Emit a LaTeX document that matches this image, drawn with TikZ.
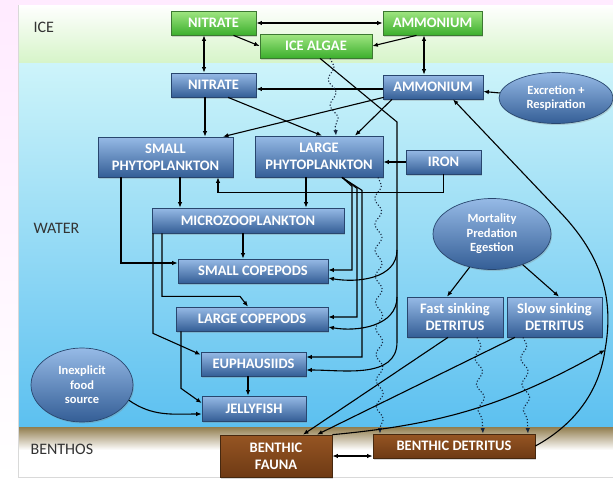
\documentclass[tikz,border=0pt]{standalone}
\usepackage{fontspec}
\setmainfont{Carlito}
\usetikzlibrary{arrows.meta,shapes.geometric,shadows,decorations.pathmorphing}

\definecolor{boxtop}{RGB}{150,186,230}
\definecolor{boxbot}{RGB}{52,94,150}
\definecolor{boxline}{RGB}{40,70,110}
\definecolor{icetop}{RGB}{160,230,130}
\definecolor{icebot}{RGB}{60,175,45}
\definecolor{iceline}{RGB}{60,120,50}
\definecolor{mudtop}{RGB}{150,85,35}
\definecolor{mudbot}{RGB}{110,58,20}
\definecolor{mudline}{RGB}{70,40,15}
\definecolor{icefill}{RGB}{214,244,200}
\definecolor{seatop}{RGB}{205,244,250}
\definecolor{seabot}{RGB}{92,192,240}
\definecolor{sandtop}{RGB}{145,125,78}
\definecolor{sinkcol}{RGB}{20,35,60}

\begin{document}
\begin{tikzpicture}[x=1pt,y=1pt,line width=1.1pt,>={Latex[length=5.5pt,width=4.5pt]},
		box/.style={draw=boxline,line width=0.7pt,top color=boxtop,bottom color=boxbot,
			text=white,font=\fontsize{14.5}{17}\selectfont\bfseries,align=center,inner sep=0pt,
			drop shadow={shadow xshift=1pt,shadow yshift=-1.5pt,opacity=0.3}},
		icebox/.style={box,draw=iceline,top color=icetop,bottom color=icebot},
		mudbox/.style={box,draw=mudline,top color=mudtop,bottom color=mudbot},
		blob/.style={ellipse,box,font=\fontsize{12.5}{14.5}\selectfont\bfseries},
		sz/.style 2 args={minimum width=#1pt,minimum height=#2pt},
		zone/.style={anchor=west,inner sep=0pt,text=black!80,font=\fontsize{16}{18}\selectfont},
		sink/.style={draw=sinkcol,dotted,line width=1.1pt,decorate,
			decoration={snake,segment length=26pt,amplitude=3.5pt,post length=5pt}},
		every edge/.style={draw,line width=1.1pt}]
		\useasboundingbox (0,0) rectangle (613,-480);
		
		% layers
		\shade[top color=magenta!8,bottom color=white] (0,0) rectangle (613,-480);
		\shade[top color=white,bottom color=icefill] (18,-5) rectangle (613,-63);
		\shade[top color=seatop,bottom color=seabot] (18,-63) rectangle (613,-427);
		\shade[top color=sandtop,bottom color=white] (18,-427) rectangle (613,-450);
		\fill[white] (18,-450) rectangle (613,-477);
		\draw[black!15,line width=0.6pt] (18,-5) -- (18,-477) -- (613,-477);
		
		\node[zone] (iceL) at (33,-27) {ICE};
		\node[zone] (waterL) at (33,-228) {WATER};
		\node[zone] (benthL) at (30,-449) {BENTHOS};
		
		\node[icebox,sz={85}{24}] (nitI) at (213.5,-23) {NITRATE};
		\node[icebox,sz={99}{24}] (ammI) at (432.5,-23) {AMMONIUM};
		\node[icebox,sz={112}{24}] (alg) at (316,-46) {ICE ALGAE};
		\node[box,sz={85}{24}] (nitW) at (213.5,-85) {NITRATE};
		\node[box,sz={100}{24}] (ammW) at (433,-87) {AMMONIUM};
		\node[blob,sz={114}{51}] (excr) at (556,-98) {Excretion +\\Respiration};
		\node[box,sz={135}{40}] (sphy) at (165.5,-157) {SMALL\\PHYTOPLANKTON};
		\node[box,sz={128}{41}] (lphy) at (319,-156.5) {LARGE\\PHYTOPLANKTON};
		\node[box,sz={75}{24}] (iron) at (443.5,-162) {IRON};
		\node[box,sz={192}{25}] (mzoo) at (248,-220.5) {MICROZOOPLANKTON};
		\node[box,sz={150}{24}] (scop) at (253,-271) {SMALL COPEPODS};
		\node[box,sz={152}{24}] (lcop) at (252,-319) {LARGE COPEPODS};
		\node[box,sz={105}{24}] (euph) at (253.5,-364) {EUPHAUSIIDS};
		\node[box,sz={104}{25}] (jell) at (254,-408.5) {JELLYFISH};
		\node[blob,sz={118}{71}] (mort) at (492,-234) {Mortality\\Predation\\Egestion};
		\node[box,sz={96}{40}] (fdet) at (455,-317) {Fast sinking\\DETRITUS};
		\node[box,sz={95}{40}] (sdet) at (554.5,-317) {Slow sinking\\DETRITUS};
		\node[blob,sz={102}{74}] (food) at (82,-385) {Inexplicit\\food\\source};
		\node[mudbox,sz={112}{42}] (bfau) at (276,-456) {BENTHIC\\FAUNA};
		\node[mudbox,sz={162}{24}] (bdet) at (454,-446) {BENTHIC DETRITUS};
		\coordinate (join) at (605,-350);
		
		% nutrients
		\draw[<->] (nitI) edge (ammI);
		\draw[->] ([xshift=20pt]nitI.south) -- (alg.west);
		\draw[->] ([xshift=-16pt]ammI.south) -- (alg.east);
		\draw[<->] ([xshift=-9.5pt]nitI.south) -- ([xshift=-9.5pt]nitW.north);
		\draw[<->] ([xshift=-8.5pt]ammI.south) -- ([xshift=-9pt]ammW.north);
		\draw[->] ([yshift=-2pt]ammW.west) -- ([yshift=-4pt]nitW.east);
		\draw[->] ([xshift=-8.5pt]nitW.south) -- ([xshift=39.5pt]sphy.north);
		\draw[->] ([xshift=14.5pt]nitW.south) -- ([xshift=3pt]lphy.north);
		\draw[->] ([xshift=1pt,yshift=2pt]ammW.south west) -- ([xshift=57.5pt]sphy.north);
		\draw[->] ([xshift=-41pt]ammW.south) -- ([xshift=36pt]lphy.north);
		\draw[->] (excr) edge (ammW);
		\draw[->] (iron.west) -- ([yshift=-5.5pt]lphy.east);
		\draw[->] (iron.south) -- ++(0,-18) -| ([xshift=52.5pt]sphy.south);
		
		% sinking
		\draw[sink,->] ([xshift=14pt]alg.south) -- ([xshift=17pt]lphy.north);
		\draw[sink,->] ([xshift=59pt]lphy.south) -- ([xshift=-74pt]bdet.north);
		\draw[sink,->] ([xshift=22pt]fdet.south) -- ([xshift=29pt]bdet.north);
		\draw[sink,->] ([xshift=-31.5pt]sdet.south) -- ([xshift=74pt]bdet.north);
		
		% grazing
		\draw[->] ([xshift=4pt]alg.south) -- (397,-122) -- (397,-342) to[out=-90,in=0] ([yshift=-6pt]euph.east);
		\draw[->] (397,-250) to[out=-90,in=-10] ([yshift=-7pt]scop.east);
		\draw[->] (397,-297) to[out=-90,in=-10] ([yshift=-8pt]lcop.east);
		\draw[->] ([xshift=23pt]lphy.south) -- ++(10,-9) |- ([yshift=1pt]scop.east);
		\draw[->] ([xshift=23pt]lphy.south) -- ++(15,-11) |- ([yshift=2pt]lcop.east);
		\draw[->] ([xshift=23pt]lphy.south) -- ++(20,-13) |- ([yshift=7pt]euph.east);
		\draw[->] ([xshift=14.5pt]sphy.south) -- ([xshift=-68pt]mzoo.north);
		\draw[->] ([xshift=-13pt]lphy.south) -- ([xshift=58pt]mzoo.north);
		\draw[->] ([xshift=-44.5pt]sphy.south) |- ([yshift=8pt]scop.west);
		\draw[->] ([xshift=-5pt]mzoo.south) -- ([xshift=-10pt]scop.north);
		\draw[->] ([xshift=-86pt]mzoo.south) -- ++(0,-63) -- ++(78,0) -- ([xshift=-4pt]lcop.north);
		\draw[->] ([xshift=-95pt]mzoo.south) -- ++(0,-100) -- ([yshift=-3pt]euph.north west);
		\draw[->] ([xshift=-71pt]lcop.south) -- ++(0,-57) -- ([yshift=5.5pt]jell.west);
		\draw[->] ([xshift=-5.5pt]euph.south) -- ([xshift=-6pt]jell.north);
		\draw[->] (food.-18) to[out=-35,in=180] ([yshift=-5.5pt]jell.west);
		
		% detritus and benthos
		\draw[->] (mort.236) -- ([xshift=-8pt]fdet.north);
		\draw[->] (mort.315) -- ([xshift=4.5pt]sdet.north);
		\draw[->] ([xshift=-7pt]fdet.south) -- ([xshift=27pt]bfau.north);
		\draw[->] ([xshift=-39.5pt]sdet.south) -- ([xshift=41pt]bfau.north);
		\draw[<->] (bfau.east) -- ([yshift=-10pt]bdet.west);
		\draw[->] (bdet.east) .. controls (565,-430) and (598,-400) .. (join)
			.. controls (614,-300) and (603,-257) .. (560,-212) -- ([xshift=20pt]ammW.south);
		\draw[->] (bfau.north east) to[bend right=12] (join);
	\end{tikzpicture}
\end{document}
